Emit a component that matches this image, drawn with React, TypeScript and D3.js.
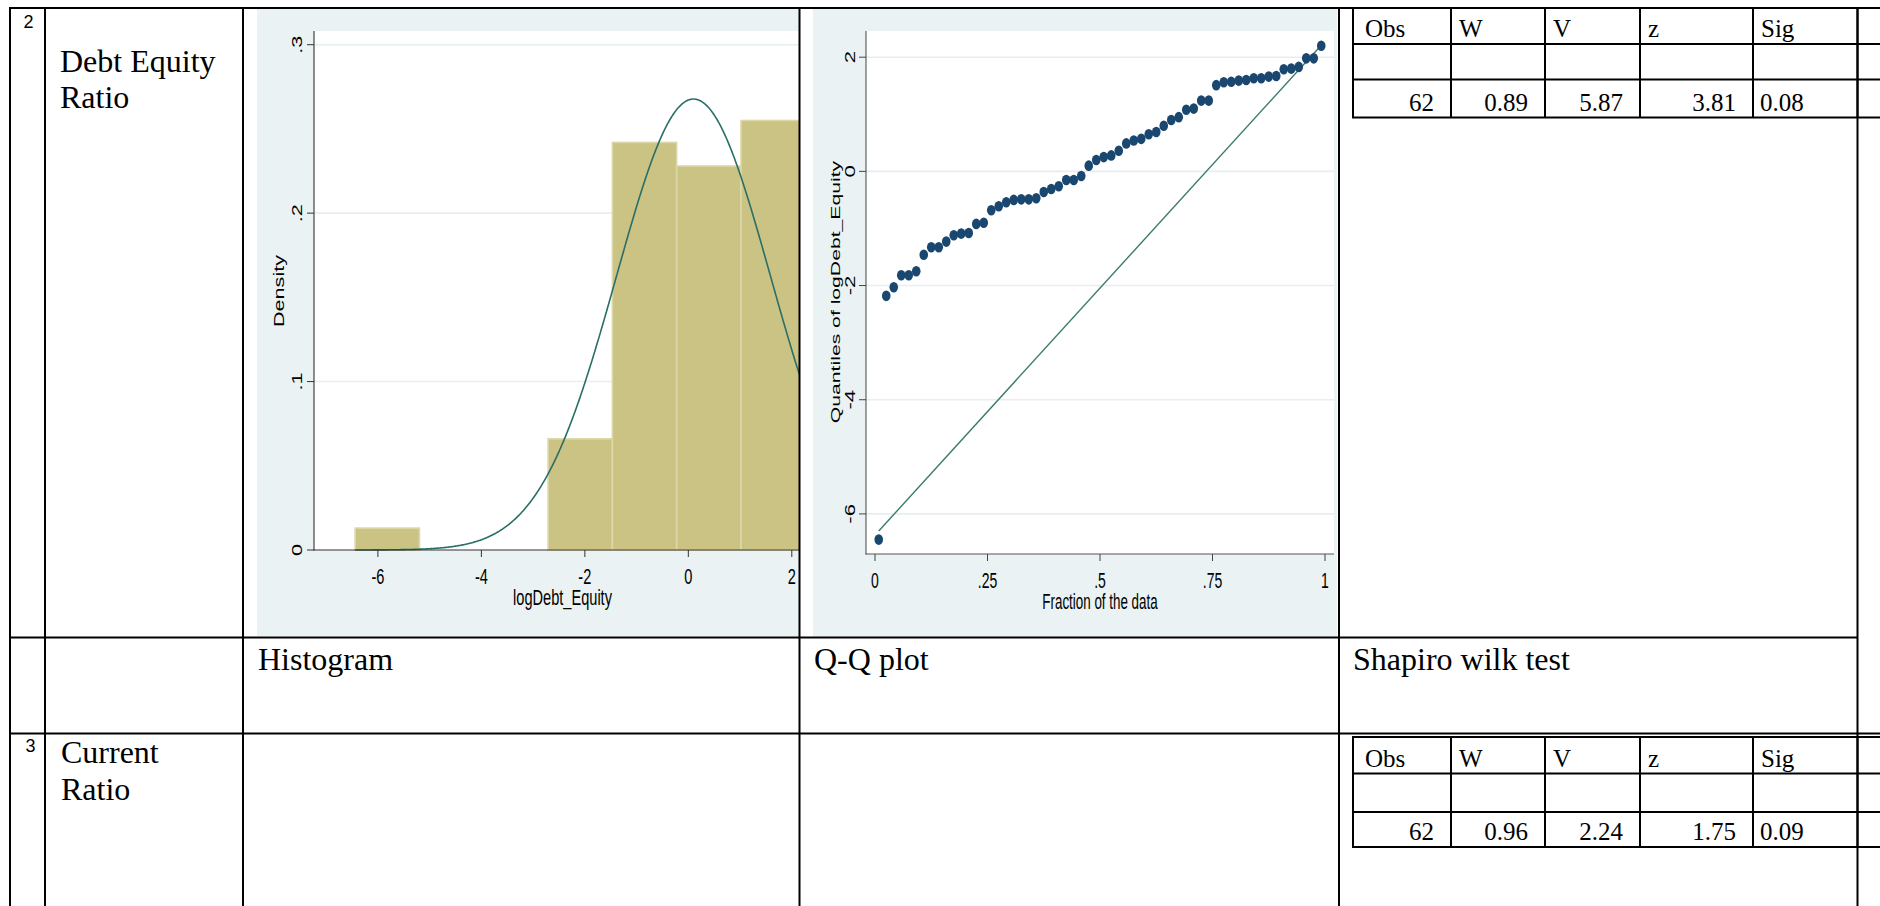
import React, { useEffect, useRef } from "react";
import * as d3 from "d3";

// histogram of logDebt_Equity (density scale)
const histBinStart = -6.44;
const histBinWidth = 1.243;
const histDensity = [0.013, 0, 0, 0.066, 0.242, 0.228, 0.255];
const normalMean = 0.1;
const normalSd = 1.49;
const histXTicks = [-6, -4, -2, 0, 2];
const histYTicks = [0, 0.1, 0.2, 0.3];
const histYLabels = ["0", ".1", ".2", ".3"];

// quantile plot: sorted values of logDebt_Equity
const qqValues = [
  -6.45, -2.18, -2.03, -1.82, -1.82, -1.75, -1.46, -1.33, -1.33, -1.23,
  -1.12, -1.09, -1.08, -0.92, -0.9, -0.68, -0.61, -0.54, -0.5, -0.49,
  -0.49, -0.47, -0.36, -0.31, -0.26, -0.15, -0.15, -0.08, 0.1, 0.2,
  0.25, 0.28, 0.36, 0.49, 0.54, 0.57, 0.65, 0.69, 0.8, 0.9,
  0.95, 1.08, 1.1, 1.24, 1.24, 1.51, 1.56, 1.57, 1.59, 1.6,
  1.63, 1.63, 1.66, 1.67, 1.79, 1.8, 1.83, 1.98, 1.98, 2.2,
];
const qqRefFrac = [0.0083, 0.9917];
const qqRefVal = [-6.3, 2.21];
const qqXTicks = [0, 0.25, 0.5, 0.75, 1];
const qqXLabels = ["0", ".25", ".5", ".75", "1"];
const qqYTicks = [-6, -4, -2, 0, 2];

// Shapiro-Wilk tables
const swHeaders = ["Obs", "W", "V", "z", "Sig"];
const swDebtEquity = ["62", "0.89", "5.87", "3.81", "0.08"];
const swCurrent = ["62", "0.96", "2.24", "1.75", "0.09"];

const SERIF = "'Liberation Serif', 'Times New Roman', serif";
const SANS = "'Liberation Sans', Arial, sans-serif";

function label(g, text, x, y, size, opts: any = {}) {
  const sx = opts.sx || 1;
  const sy = opts.sy || 1;
  const rot = opts.rotate ? " rotate(-90)" : "";
  return g
    .append("text")
    .attr("transform", `translate(${x},${y}) scale(${sx},${sy})${rot}`)
    .attr("text-anchor", opts.anchor || "start")
    .attr("font-family", opts.family || SANS)
    .attr("font-size", size)
    .attr("fill", opts.fill || "#000")
    .text(text);
}

function line(g, x1, y1, x2, y2, stroke = "#000", w = 2) {
  g.append("line")
    .attr("x1", x1).attr("y1", y1).attr("x2", x2).attr("y2", y2)
    .attr("stroke", stroke).attr("stroke-width", w);
}

function drawHistogram(svg) {
  const x = d3.scaleLinear().domain([-6, 2]).range([377.9, 791.8]);
  const y = d3.scaleLinear().domain([0, 0.3]).range([550, 44.7]);
  const txt = { sy: 1.48 };

  svg.select("defs").append("clipPath").attr("id", "histClip")
    .append("rect").attr("x", 257).attr("y", 8).attr("width", 542).attr("height", 628);
  const g = svg.append("g").attr("clip-path", "url(#histClip)");

  g.append("rect").attr("x", 257).attr("y", 8).attr("width", 542).attr("height", 628).attr("fill", "#eaf2f3");
  g.append("rect").attr("x", 314).attr("y", 31).attr("width", 500).attr("height", 519).attr("fill", "#fff");

  histYTicks.slice(1).forEach((t) => line(g, 314, y(t), 812, y(t), "#e6eef1", 1.6));

  histDensity.forEach((d, i) => {
    if (!d) return;
    const x0 = histBinStart + i * histBinWidth;
    g.append("rect")
      .attr("x", x(x0)).attr("y", y(d))
      .attr("width", x(x0 + histBinWidth) - x(x0)).attr("height", y(0) - y(d))
      .attr("fill", "#cac384").attr("stroke", "#dcd8a8").attr("stroke-width", 1.6);
  });

  const pdf = (v) => Math.exp(-0.5 * ((v - normalMean) / normalSd) ** 2) / (normalSd * Math.sqrt(2 * Math.PI));
  const xs = d3.range(histBinStart, histBinStart + 7 * histBinWidth, 0.02);
  g.append("path")
    .attr("d", d3.line().x((v) => x(v)).y((v) => y(pdf(v)))(xs))
    .attr("fill", "none").attr("stroke", "#2b6e68").attr("stroke-width", 1.6);

  line(g, 314, 31, 314, 550.5, "#333", 1.1);
  line(g, 313.5, 550, 812, 550, "#333", 1.1);
  histYTicks.forEach((t, i) => {
    line(g, 307, y(t), 314, y(t), "#333", 1);
    label(g, histYLabels[i], 302, y(t), 14.6, { ...txt, rotate: true, anchor: "middle" });
  });
  histXTicks.forEach((t) => {
    line(g, x(t), 550, x(t), 557, "#333", 1);
    label(g, String(t), x(t), 584, 14.6, { ...txt, anchor: "middle" });
  });
  label(g, "logDebt_Equity", 562.5, 605, 14.6, { ...txt, anchor: "middle" });
  label(g, "Density", 284, 291, 14.6, { ...txt, rotate: true, anchor: "middle" });
}

function drawQuantile(svg) {
  const x = d3.scaleLinear().domain([0, 1]).range([875, 1325]);
  const y = d3.scaleLinear().domain([-6, 2]).range([513.9, 57.2]);
  const txt = { sy: 1.58 };

  svg.select("defs").append("clipPath").attr("id", "qqClip")
    .append("rect").attr("x", 813).attr("y", 8).attr("width", 524).attr("height", 629);
  const g = svg.append("g").attr("clip-path", "url(#qqClip)");

  g.append("rect").attr("x", 813).attr("y", 8).attr("width", 524).attr("height", 629).attr("fill", "#eaf2f3");
  g.append("rect").attr("x", 866).attr("y", 31).attr("width", 468).attr("height", 523).attr("fill", "#fff");

  qqYTicks.forEach((t) => line(g, 866, y(t), 1334, y(t), "#e6eef1", 1.6));

  g.append("line")
    .attr("x1", x(qqRefFrac[0])).attr("y1", y(qqRefVal[0]))
    .attr("x2", x(qqRefFrac[1])).attr("y2", y(qqRefVal[1]))
    .attr("stroke", "#3b7b6c").attr("stroke-width", 1.4);

  const n = qqValues.length;
  g.selectAll("ellipse.pt")
    .data(qqValues)
    .enter()
    .append("ellipse")
    .attr("cx", (d, i) => x((i + 0.5) / n))
    .attr("cy", (d) => y(d))
    .attr("rx", 4.3).attr("ry", 5.3)
    .attr("fill", "#1a476f");

  line(g, 866, 31, 866, 554.5, "#555", 1.1);
  line(g, 865.5, 554, 1334, 554, "#555", 1.1);
  qqYTicks.forEach((t) => {
    line(g, 859, y(t), 866, y(t), "#444", 1);
    label(g, String(t), 855, y(t), 14, { ...txt, rotate: true, anchor: "middle" });
  });
  qqXTicks.forEach((t, i) => {
    line(g, x(t), 554, x(t), 561, "#444", 1);
    label(g, qqXLabels[i], x(t), 588, 14, { ...txt, anchor: "middle" });
  });
  label(g, "Fraction of the data", 1100, 609, 13.4, { ...txt, anchor: "middle" });
  label(g, "Quantiles of logDebt_Equity", 839.5, 292, 13.4, { ...txt, rotate: true, anchor: "middle" });
}

function drawSwTable(svg, rows, values) {
  const g = svg.append("g");
  const cols = [1353, 1451, 1545, 1640, 1753, 1857.5];
  rows.forEach((r) => line(g, 1352, r, 1880, r, "#000", 2));
  cols.forEach((c) => line(g, c, rows[0], c, rows[3], "#000", 2));
  const t = { family: SERIF };
  swHeaders.forEach((h, i) => {
    label(g, h, cols[i] + (i === 0 ? 12 : 8), rows[1] - 7, 25, t);
  });
  values.forEach((v, i) => {
    if (i === values.length - 1) label(g, v, cols[i] + 7, rows[3] - 7, 25, t);
    else label(g, v, cols[i + 1] - 17, rows[3] - 7, 25, { ...t, anchor: "end" });
  });
}

function drawTable(svg) {
  const g = svg.append("g");
  line(g, 10, 8, 1880, 8);
  line(g, 10, 637.5, 1858, 637.5);
  line(g, 10, 733.5, 1880, 733.5);
  [10, 45, 243, 799.5, 1339, 1857.5].forEach((c) => line(g, c, 7, c, 906));

  label(g, "2", 28.5, 28, 18, { anchor: "middle" });
  label(g, "Debt Equity", 60, 72, 32, { family: SERIF });
  label(g, "Ratio", 60, 108, 32, { family: SERIF });

  label(g, "Histogram", 258, 670, 32, { family: SERIF });
  label(g, "Q-Q plot", 814, 670, 32, { family: SERIF });
  label(g, "Shapiro wilk test", 1353, 670, 32, { family: SERIF });

  label(g, "3", 30.5, 752, 18, { anchor: "middle" });
  label(g, "Current", 61, 763, 32, { family: SERIF });
  label(g, "Ratio", 61, 800, 32, { family: SERIF });
}

export default function App() {
  const ref = useRef(null);

  useEffect(() => {
    const svg = d3.select(ref.current);
    svg.selectAll("*").remove();
    svg.append("defs");
    drawHistogram(svg);
    drawQuantile(svg);
    drawTable(svg);
    drawSwTable(svg, [8, 44, 79.5, 117.5], swDebtEquity);
    drawSwTable(svg, [737, 773.5, 812, 847], swCurrent);
  }, []);

  return (
    <svg
      ref={ref}
      width={1880}
      height={906}
      style={{ position: "absolute", left: 0, top: 0, background: "#fff" }}
    />
  );
}
